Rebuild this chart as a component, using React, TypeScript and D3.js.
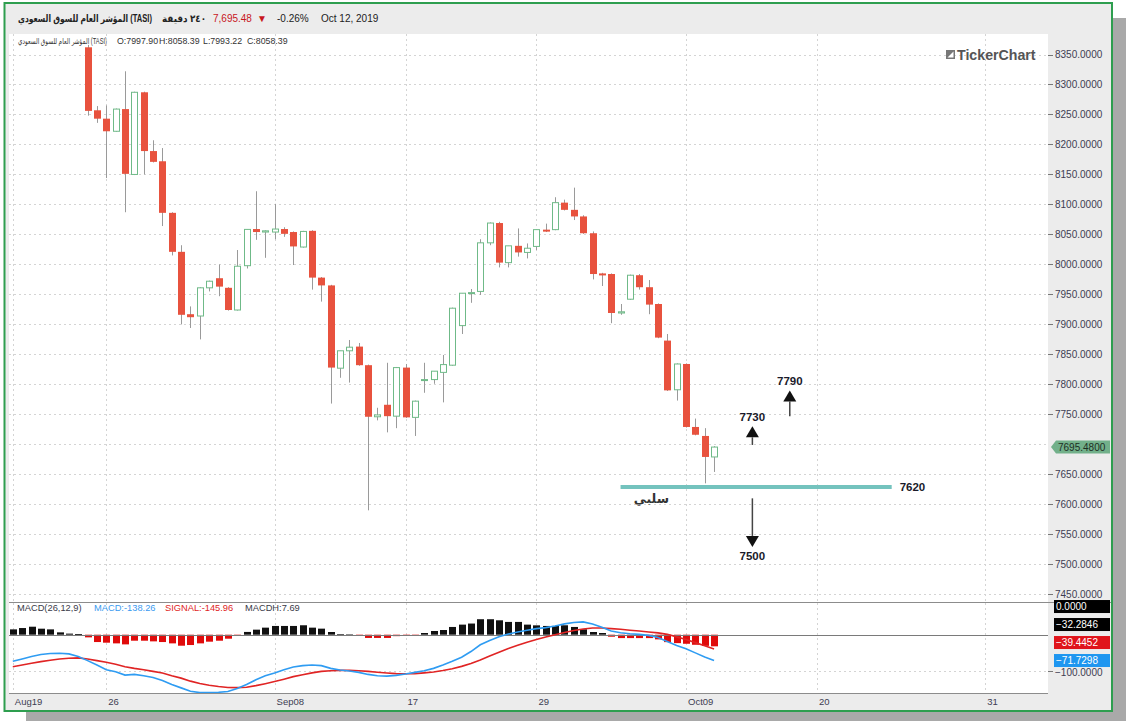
import React from "react";
import * as d3 from "d3";

const FONT = "'Liberation Sans', Arial, 'DejaVu Sans', sans-serif";

// ---- data: 240-minute candles, index 0 = Aug 19 first candle ----
const FIRST_INDEX = 8;
const opens = [8362, 8257, 8243, 8222, 8259, 8150, 8287, 8189, 8172, 8086, 8021, 7917, 7914, 7961, 7977, 7961, 7924, 7997.9, 8059, 8054, 8054, 8059, 8054, 8029, 8056, 7978, 7965, 7827, 7856, 7863, 7832, 7746, 7766, 7747, 7828, 7745, 7807, 7808, 7820, 7832, 7898, 7952, 7955, 8036, 8069, 8003, 8031, 8020, 8030, 8058, 8058, 8103, 8091, 8080, 8052, 7985, 7984, 7919, 7942, 7982, 7962, 7934, 7873, 7791, 7834, 7729, 7714, 7679];
const highs = [8366, 8264, 8265, 8260, 8322, 8288, 8288, 8207, 8194, 8087, 8032, 7930, 7962, 7973, 8000, 7962, 8024, 8058.39, 8122, 8057, 8101, 8062, 8055, 8056, 8057, 7979, 7966, 7856, 7874, 7869, 7833, 7761, 7836, 7829, 7834, 7773, 7836, 7822, 7849, 7928, 7952, 7959, 8042, 8070, 8071, 8031, 8060, 8035, 8058, 8068, 8112, 8108, 8128, 8082, 8055, 7986, 7985, 7934, 7983, 7984, 7974, 7935, 7884, 7835, 7835, 7743, 7727, 7697];
const lows = [8248, 8236, 8144, 8221, 8087, 8149, 8150, 8170, 8064, 8015, 7900, 7894, 7875, 7955, 7947, 7923, 7923, 7993.22, 8041, 8011, 8042, 8046, 7999, 8028, 7958, 7938, 7768, 7811, 7803, 7831, 7590, 7740, 7720, 7727, 7744, 7714, 7786, 7801, 7770, 7831, 7884, 7936, 7949, 8032, 7995, 7995, 8013, 8010, 8024, 8054, 8057, 8090, 8074, 8051, 7975, 7964, 7902, 7916, 7941, 7958, 7917, 7877, 7789, 7773, 7728, 7715, 7635, 7654];
const closes = [8256, 8243, 8222, 8259, 8151, 8287, 8189, 8171, 8086, 8021, 7916, 7912, 7961, 7972, 7963, 7924, 7997, 8058.39, 8054, 8056, 8059, 8051, 8030, 8055, 7978, 7965, 7828, 7856, 7862, 7832, 7746, 7749, 7747, 7828, 7745, 7772, 7808, 7822, 7833, 7927, 7952, 7953, 8036, 8069, 8003, 8031, 8020, 8027, 8058, 8055, 8103, 8091, 8080, 8052, 7984, 7984, 7919, 7921, 7982, 7962, 7933, 7878, 7790, 7834, 7729, 7716, 7679, 7695.48];

const macdValues = [-73.9, -67.3, -60.8, -55.2, -52.4, -51.4, -53.3, -60.8, -72, -84.2, -97.2, -102.9, -112.2, -110.3, -114, -118.7, -127.2, -138.4, -147.7, -157, -160.8, -160.8, -160, -158, -149.6, -138.26, -125.3, -114, -106.6, -97.2, -89.8, -86, -84.2, -86, -93.5, -98, -101, -104.7, -110.3, -114, -115, -113, -109.4, -104.7, -100, -93.5, -84.2, -73.9, -62.6, -46.8, -28, -15.9, -5.6, 1.9, 7.5, 12.2, 16.8, 19.6, 24.3, 30, 33.7, 35.5, 30, 20.6, 10.3, 5.6, 2.8, 0.9, -1.9, -7.5, -18.7, -30, -39.3, -50.5, -61.7, -71.73];
const signalValues = [-88.8, -84.2, -79.5, -74.8, -71, -67.3, -65.5, -64.5, -67.3, -72, -76.7, -82.3, -88.8, -93.5, -97.2, -101.9, -106.6, -114, -120.6, -129, -135.6, -140.3, -144, -146.8, -147, -145.96, -141.5, -136, -130, -123.5, -116.5, -111, -106, -102, -100, -99, -99, -100, -102, -104.5, -106.5, -108, -108.5, -108, -106, -103.5, -99.5, -94.5, -88, -80, -70, -59, -48.5, -38.5, -29.5, -21, -13.3, -6.5, 0, 6, 11.5, 16, 18.7, 18.5, 16.8, 15, 12.5, 10.3, 7.7, 5, 1, -6, -13.5, -22, -30.7, -39.45];
const histValues = [14.8, 18.5, 22.2, 16.7, 14.8, 6.5, 3, 1.5, -7.4, -20.4, -22.2, -24.1, -26.9, -16.7, -16.7, -18.5, -20.4, -24.1, -30.6, -28.7, -24.1, -19.4, -16.7, -11.1, -1, 7.69, 14, 19.6, 24.3, 24.3, 24.3, 26.2, 19.6, 16.8, 7.5, 1, 0.5, -3, -9, -9, -9, -4, -3, -1, 4.7, 10.3, 13, 21.5, 28, 31, 43, 43, 40, 35.5, 35.5, 28, 26, 24.3, 24.3, 26.2, 21.5, 15, 7.5, 4.7, -5.6, -9.4, -9.4, -9.4, -9.4, -13, -20.6, -23.4, -25.2, -28, -31, -32.28];

const tickIndex = [0, 10, 28, 42, 56, 72, 86, 104];
const tickLabels = ["Aug19", "26", "Sep08", "17", "29", "Oct09", "20", "31"];
const priceTicks = [7450, 7500, 7550, 7600, 7650, 7700, 7750, 7800, 7850, 7900, 7950, 8000, 8050, 8100, 8150, 8200, 8250, 8300, 8350];
const lastPrice = 7695.48;

const levelLine = { price: 7629, from: 65, to: 94, label: "7620", note: "سلبي", noteAt: 68.3 };
const arrowIdx = [79.1, 83.1, 79.1];
const arrowFrom = [7699, 7747, 7610];
const arrowTo = [7730, 7790, 7529];
const arrowLabels = ["7730", "7790", "7500"];

const macdLabelValues = [0, -32.2846, -39.4452, -71.7298];
const macdLabelColors = ["#000000", "#000000", "#e0141b", "#1e96f0"];

export default function App() {
  const plotL = 9, plotR = 1048;
  const priceTop = 34, priceBot = 602, macdTop = 603, macdBot = 693;
  const x = d3.scaleLinear().domain([0, 104]).range([12.8, 985.2]);
  const yP = d3.scaleLinear().domain([7450, 8350]).range([594.3, 54.5]);
  const yM = d3.scaleLinear().domain([-100, 0]).range([670.7, 634.7]);
  const fmt4 = d3.format(".4f");

  const candles = opens.map((o, i) => ({ j: FIRST_INDEX + i, o, h: highs[i], l: lows[i], c: closes[i] }));
  const line = d3.line<number>().x((_, i) => x(i)).y((d) => yM(d));

  // stacked MACD value labels (pushed upward to avoid overlap)
  const order = macdLabelValues.map((v, i) => i).sort((a, b) => macdLabelValues[a] - macdLabelValues[b]);
  const labelY: number[] = [];
  let prev = Infinity;
  order.forEach((i) => {
    const yy = Math.min(yM(macdLabelValues[i]), prev - 18);
    labelY[i] = yy;
    prev = yy;
  });

  const bw = 6;
  const grid = { stroke: "#d4d4d4", strokeDasharray: "2,3", strokeWidth: 1 };
  const lastY = yP(lastPrice);

  return (
    <svg width={1126} height={721} style={{ position: "absolute", left: 0, top: 0, display: "block" }} fontFamily={FONT}>
      <defs>
        <clipPath id="pclip"><rect x={plotL} y={priceTop} width={plotR - plotL} height={priceBot - priceTop} /></clipPath>
        <clipPath id="mclip"><rect x={plotL} y={macdTop} width={plotR - plotL} height={macdBot - macdTop} /></clipPath>
      </defs>
      <rect x={0} y={0} width={1126} height={721} fill="#ffffff" />
      {/* shadow */}
      <rect x={1113} y={18} width={13} height={703} fill="#a9a9a9" />
      <rect x={26} y={712} width={1100} height={9} fill="#a9a9a9" />
      {/* frame */}
      <rect x={4.5} y={3} width={1107.5} height={708} fill="#ececec" stroke="#2e9e4f" strokeWidth={2} />
      {/* plot backgrounds */}
      <rect x={plotL} y={priceTop} width={plotR - plotL} height={priceBot - priceTop} fill="#ffffff" />
      <rect x={plotL} y={macdTop} width={plotR - plotL} height={macdBot - macdTop} fill="#ffffff" />

      {/* header */}
      <g fontSize={10} fill="#222">
        <text x={18} y={22} fontWeight="bold" textLength={134} lengthAdjust="spacingAndGlyphs">المؤشر العام للسوق السعودي (TASI)</text>
        <text x={162} y={22} fontWeight="bold" textLength={44} lengthAdjust="spacingAndGlyphs">٢٤٠ دقيقة</text>
        <text x={213} y={22} fill="#c8161d">7,695.48</text>
        <text x={257} y={22} fill="#c8161d" fontSize={10}>▼</text>
        <text x={277} y={22}>-0.26%</text>
        <text x={321} y={22}>Oct 12, 2019</text>
      </g>
      <g fontSize={8.8} fill="#333">
        <text x={18} y={44} fontSize={8.2} textLength={89} lengthAdjust="spacingAndGlyphs">المؤشر العام للسوق السعودي (TASI)</text>
        <text x={117} y={44}>O:7997.90</text>
        <text x={159} y={44}>H:8058.39</text>
        <text x={203} y={44}>L:7993.22</text>
        <text x={247} y={44}>C:8058.39</text>
      </g>

      {/* price gridlines */}
      {priceTicks.map((p) => (
        <line key={"hg" + p} x1={plotL} x2={plotR} y1={Math.round(yP(p)) + 0.5} y2={Math.round(yP(p)) + 0.5} {...grid} />
      ))}
      {tickIndex.map((t) => (
        <line key={"vg" + t} x1={Math.round(x(t)) + 0.5} x2={Math.round(x(t)) + 0.5} y1={priceTop} y2={priceBot} {...grid} />
      ))}
      {/* price axis */}
      {priceTicks.filter((p) => Math.abs(yP(p) - lastY) > 10).map((p) => (
        <g key={"pt" + p}>
          <line x1={plotR} x2={plotR + 5} y1={Math.round(yP(p)) + 0.5} y2={Math.round(yP(p)) + 0.5} stroke="#777" />
          <text x={1055} y={yP(p)} dy="0.35em" fontSize={10} fill="#3d3d52">{fmt4(p)}</text>
        </g>
      ))}

      {/* TickerChart logo */}
      <rect x={946} y={50} width={9} height={9} fill="#777" />
      <path d="M947.5,57.5 L953.5,51.5 L953.5,57.5 Z" fill="#fff" />
      <text x={957} y={60} fontSize={14.2} fontWeight="bold" fill="#555">TickerChart</text>

      {/* candles */}
      <g clipPath="url(#pclip)">
        {candles.map((d) => {
          const cx = Math.round(x(d.j));
          const up = d.c >= d.o;
          const top = yP(Math.max(d.o, d.c));
          const bot = yP(Math.min(d.o, d.c));
          const h = Math.max(bot - top, 1);
          return (
            <g key={"c" + d.j}>
              <line x1={cx + 0.5} x2={cx + 0.5} y1={yP(d.h)} y2={yP(d.l)} stroke="#9a9a9a" strokeWidth={1} />
              {up ? (
                <rect x={cx - bw / 2 + 0.5} y={top} width={bw} height={h} fill="#ffffff" stroke="#6fba88" strokeWidth={1} />
              ) : (
                <rect x={cx - bw / 2} y={top} width={bw + 1} height={Math.max(h, 2)} fill="#e8523e" />
              )}
            </g>
          );
        })}

        {/* annotations */}
        <line x1={x(levelLine.from)} x2={x(levelLine.to)} y1={yP(levelLine.price)} y2={yP(levelLine.price)} stroke="#74c3be" strokeWidth={4} />
        <text x={x(levelLine.noteAt)} y={yP(levelLine.price) + 16} textAnchor="middle" fontSize={12.5} fontWeight="bold" fill="#333" fontFamily="'DejaVu Sans', sans-serif">{levelLine.note}</text>
        {arrowIdx.map((j, i) => {
          const ax = x(j);
          const from = yP(arrowFrom[i]);
          const tip = yP(arrowTo[i]);
          const dir = tip < from ? -1 : 1; // -1 up
          const base = tip - dir * 11;
          return (
            <g key={"ar" + i}>
              <line x1={ax} x2={ax} y1={from} y2={base} stroke="#444" strokeWidth={1.5} />
              <path d={`M${ax - 6.5},${base} L${ax + 6.5},${base} L${ax},${tip} Z`} fill="#111" />
              <text x={ax} y={dir < 0 ? tip - 5 : tip + 13} textAnchor="middle" fontSize={11.5} fontWeight="bold" fill="#1a1a2a">{arrowLabels[i]}</text>
            </g>
          );
        })}
      </g>
      <text x={x(levelLine.to) + 8} y={yP(levelLine.price) + 4} fontSize={11.5} fontWeight="bold" fill="#1a1a2a">{levelLine.label}</text>

      {/* last price tag */}
      <path d={`M${plotR + 3},${lastY} L${plotR + 8},${lastY - 6.5} L1110,${lastY - 6.5} L1110,${lastY + 6.5} L${plotR + 8},${lastY + 6.5} Z`} fill="#72b08a" />
      <text x={1058} y={lastY} dy="0.35em" fontSize={10} fill="#1d2f24">{fmt4(lastPrice)}</text>

      {/* panel separator */}
      <line x1={plotL} x2={1111} y1={602.5} y2={602.5} stroke="#8c8c8c" />

      {/* MACD panel */}
      {tickIndex.map((t) => (
        <line key={"mvg" + t} x1={Math.round(x(t)) + 0.5} x2={Math.round(x(t)) + 0.5} y1={macdTop} y2={macdBot} {...grid} />
      ))}
      <line x1={plotL} x2={plotR} y1={Math.round(yM(-100)) + 0.5} y2={Math.round(yM(-100)) + 0.5} {...grid} />
      <g clipPath="url(#mclip)">
        {histValues.map((v, i) => {
          const y0 = yM(0), y1 = yM(v);
          return (
            <rect key={"h" + i} x={Math.round(x(i)) - bw / 2} y={Math.min(y0, y1)} width={bw + 1} height={Math.max(Math.abs(y1 - y0), 1)} fill={v >= 0 ? "#111111" : "#e00b0b"} />
          );
        })}
        <line x1={plotL} x2={plotR} y1={Math.round(yM(0)) + 0.5} y2={Math.round(yM(0)) + 0.5} stroke="#7a7a7a" />
        <path d={line(signalValues) || ""} fill="none" stroke="#e02424" strokeWidth={1.6} />
        <path d={line(macdValues) || ""} fill="none" stroke="#2f9cf2" strokeWidth={1.6} />
      </g>
      <g fontSize={9.3}>
        <text x={17} y={611} fill="#3a3a48">MACD(26,12,9)</text>
        <text x={94} y={611} fill="#3a9af0">MACD:-138.26</text>
        <text x={165} y={611} fill="#e02424">SIGNAL:-145.96</text>
        <text x={245} y={611} fill="#3a3a48">MACDH:7.69</text>
      </g>
      {/* MACD axis labels */}
      <line x1={plotR} x2={plotR + 5} y1={Math.round(yM(-100)) + 0.5} y2={Math.round(yM(-100)) + 0.5} stroke="#777" />
      <text x={1055} y={yM(-100) + 2} dy="0.35em" fontSize={10} fill="#3d3d52">{fmt4(-100)}</text>
      {macdLabelValues.map((v, i) => (
        <g key={"ml" + i}>
          <rect x={1054} y={labelY[i] - 6.5} width={56} height={13} fill={macdLabelColors[i]} />
          <text x={1056} y={labelY[i]} dy="0.35em" fontSize={10} fill="#ffffff">{fmt4(v)}</text>
        </g>
      ))}

      {/* x axis */}
      <line x1={plotL} x2={plotR} y1={macdBot + 0.5} y2={macdBot + 0.5} stroke="#8c8c8c" />
      {tickIndex.map((t, i) => (
        <text key={"xl" + t} x={x(t) + 2} y={705} fontSize={9.5} fill="#3d3d52">{tickLabels[i]}</text>
      ))}
    </svg>
  );
}
